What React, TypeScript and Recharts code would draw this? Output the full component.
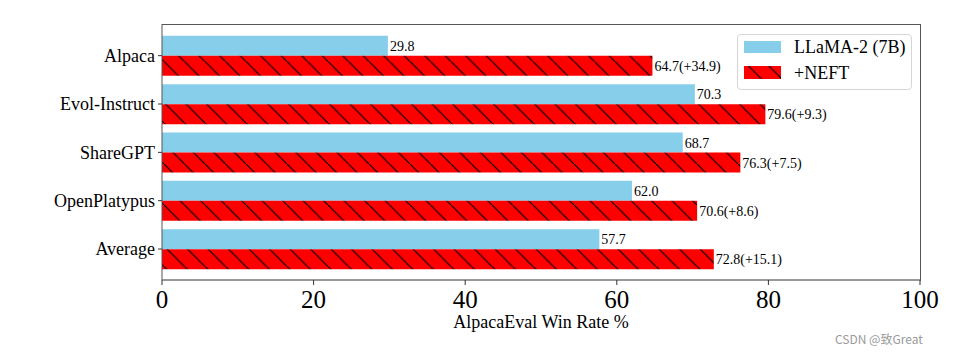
import { BarChart, Bar, XAxis, YAxis, LabelList, Label } from 'recharts';

const categories = ['Alpaca', 'Evol-Instruct', 'ShareGPT', 'OpenPlatypus', 'Average'];
const baseScores = [29.8, 70.3, 68.7, 62.0, 57.7];
const neftScores = [64.7, 79.6, 76.3, 70.6, 72.8];
const gains = ['+34.9', '+9.3', '+7.5', '+8.6', '+15.1'];
const xTicks = [0, 20, 40, 60, 80, 100];

const data = categories.map((name, i) => ({
    name,
    base: baseScores[i],
    neft: neftScores[i],
    baseLabel: baseScores[i].toFixed(1),
    neftLabel: `${neftScores[i].toFixed(1)}(${gains[i]})`,
}));

const SERIF = '"Liberation Serif", "DejaVu Serif", serif';
const BLUE = '#87ceeb';

const HatchDef = ({ id }: { id: string }) => (
    <defs>
        <pattern id={id} patternUnits="userSpaceOnUse" width={20.5} height={20.5}>
            <rect width={20.5} height={20.5} fill="#ff0000" />
            <line x1={0} y1={0} x2={20.5} y2={20.5} stroke="#000" strokeWidth={1.2} />
        </pattern>
    </defs>
);

// x axis title, drawn as plain svg text so the serif font sticks
const XTitle = (props: any) => {
    const vb = props.viewBox || {};
    return (
        <text
            x={vb.x + vb.width / 2}
            y={vb.y + vb.height - 25}
            textAnchor="middle"
            fill="#000"
            fontSize={18}
            style={{ fontFamily: SERIF }}
        >
            AlpacaEval Win Rate %
        </text>
    );
};

// legend box, drawn like matplotlib's upper-right legend
const LegendBox = () => (
    <div
        style={{
            position: 'absolute',
            left: 737,
            top: 34,
            width: 173,
            height: 54,
            border: '1px solid #d6d6d6',
            borderRadius: 4,
            background: '#fff',
            fontFamily: SERIF,
            fontSize: 18,
        }}
    >
        <svg width={40} height={50} style={{ position: 'absolute', left: 6, top: 6 }}>
            <HatchDef id="hatchLegend" />
            <rect x={0} y={0} width={37} height={12} fill={BLUE} />
            <rect x={0} y={25} width={37} height={13} fill="url(#hatchLegend)" />
        </svg>
        <div style={{ position: 'absolute', left: 56, top: 0, lineHeight: '24px' }}>LLaMA-2 (7B)</div>
        <div style={{ position: 'absolute', left: 56, top: 26, lineHeight: '24px' }}>+NEFT</div>
    </div>
);

export default function App() {
    return (
        <div style={{ position: 'absolute', left: 0, top: 0, width: 975, height: 353, background: '#fff', fontFamily: SERIF }}>
            <BarChart
                width={975}
                height={353}
                data={data}
                layout="vertical"
                margin={{ top: 24, right: 55, left: 0, bottom: 0 }}
                barCategoryGap="9%"
                barGap={0}
                style={{ fontFamily: SERIF }}
            >
                <HatchDef id="hatchBar" />
                <XAxis
                    type="number"
                    domain={[0, 100]}
                    ticks={xTicks}
                    height={73}
                    tickSize={5}
                    tickMargin={5}
                    axisLine={{ stroke: '#333' }}
                    tickLine={{ stroke: '#333' }}
                    tick={{ fill: '#000', fontSize: 25, fontFamily: SERIF }}
                >
                    <Label content={XTitle} />
                </XAxis>
                <YAxis
                    type="category"
                    dataKey="name"
                    width={162}
                    padding={{ top: 7.5, bottom: 6.8 }}
                    tickSize={4}
                    tickMargin={3}
                    axisLine={{ stroke: '#555' }}
                    tickLine={{ stroke: '#333' }}
                    tick={{ fill: '#000', fontSize: 18, fontFamily: SERIF }}
                />
                <Bar dataKey="base" name="LLaMA-2 (7B)" fill={BLUE} isAnimationActive={false}>
                    <LabelList dataKey="baseLabel" position="right" offset={2} fill="#000" fontSize={14} fontFamily={SERIF} />
                </Bar>
                <Bar dataKey="neft" name="+NEFT" fill="url(#hatchBar)" isAnimationActive={false}>
                    <LabelList dataKey="neftLabel" position="right" offset={2} fill="#000" fontSize={14} fontFamily={SERIF} />
                </Bar>
            </BarChart>
            {/* frame around the plot area */}
            <div
                style={{
                    position: 'absolute',
                    left: 162,
                    top: 24,
                    width: 758,
                    height: 256,
                    borderTop: '1px solid #555',
                    borderRight: '1px solid #555',
                    pointerEvents: 'none',
                }}
            />
            <LegendBox />
            <div
                style={{
                    position: 'absolute',
                    left: 835,
                    top: 330,
                    fontSize: 12,
                    color: '#9a9a9a',
                    fontFamily: '"Noto Sans CJK SC", "Noto Sans", sans-serif',
                }}
            >
                CSDN @致Great
            </div>
        </div>
    );
}
